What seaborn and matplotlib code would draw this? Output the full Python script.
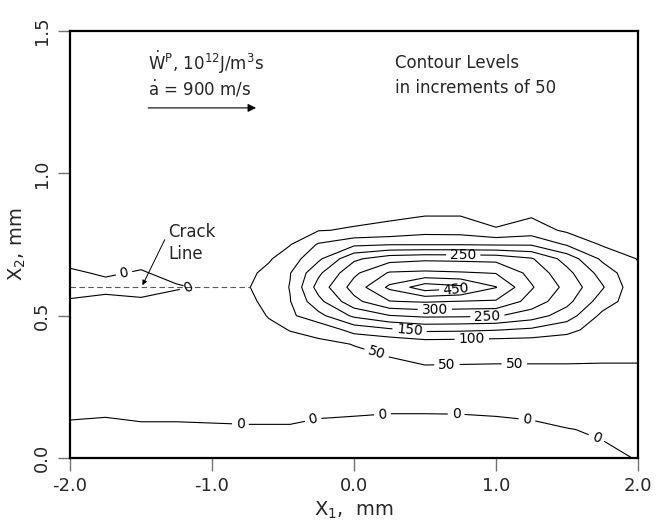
import numpy as np
import matplotlib
matplotlib.use("Agg")
import matplotlib.pyplot as plt
import seaborn as sns

# grid of the computed field, mm
x1_mm = [-2.0, -1.75, -1.5, -1.25, -1.0, -0.75, -0.6, -0.45, -0.25, 0.0,
         0.25, 0.5, 0.75, 1.0, 1.25, 1.5, 1.75, 2.0]
x2_mm = [0.0, 0.1, 0.2, 0.3, 0.4, 0.45, 0.5, 0.55, 0.6, 0.65, 0.7,
         0.75, 0.8, 0.9, 1.0, 1.5]

# plastic work rate (10^12 J/m^3 s), one list per x1 column, bottom -> top
wp_columns = [
    [-20, -7, 14, 20, 22, 20, 18, 5, -20, -5, 10, 15, 18, 20, 18, 10],
    [-18, -9, 12, 20, 22, 20, 18, 10, -10, 4, 12, 15, 18, 20, 18, 10],
    [-18, -6, 16, 22, 24, 22, 20, 6, -15, -3, 10, 16, 18, 20, 18, 10],
    [-18, -6, 16, 22, 24, 22, 20, 12, -3, 10, 15, 18, 18, 20, 18, 10],
    [-18, -5, 17, 24, 26, 25, 24, 20, 5, 18, 22, 22, 22, 22, 20, 10],
    [-18, -4, 18, 26, 30, 34, 36, 40, 47, 40, 30, 28, 28, 24, 20, 10],
    [-18, -4, 18, 27, 35, 42, 52, 62, 70, 62, 45, 36, 32, 26, 21, 10],
    [-18, -4, 18, 28, 40, 51, 90, 98, 102, 98, 75, 48, 38, 28, 22, 10],
    [-18, -10, 16, 32, 42, 62, 135, 185, 220, 190, 140, 105, 48, 28, 22, 12],
    [-18, -14, 16, 34, 51, 118, 210, 285, 320, 290, 240, 140, 54, 25, 20, 12],
    [-16, -15, 12, 38, 60, 140, 248, 348, 410, 355, 280, 148, 62, 25, 20, 12],
    [-15, -15, 12, 42, 72, 160, 260, 355, 480, 360, 290, 148, 80, 20, 18, 12],
    [-15, -14, 12, 42, 70, 158, 258, 348, 462, 355, 288, 148, 78, 22, 18, 12],
    [-15, -12, 14, 42, 68, 152, 255, 345, 402, 348, 285, 145, 53, 25, 18, 12],
    [-14, -8, 16, 42, 68, 140, 225, 280, 305, 285, 255, 145, 72, 22, 18, 12],
    [-10, -1, 18, 42, 68, 115, 175, 215, 235, 215, 180, 95, 42, 25, 18, 12],
    [-5, 3, 20, 42, 66, 75, 88, 125, 155, 130, 90, 45, 35, 25, 18, 12],
    [1, 10, 25, 42, 66, 70, 72, 68, 60, 58, 48, 38, 32, 25, 18, 12],
]

levels = [0, 50, 100, 150, 200, 250, 300, 350, 400, 450]
x_ticks = [-2.0, -1.0, 0.0, 1.0, 2.0]
y_ticks = [0.0, 0.5, 1.0, 1.5]
crack_x = [-2.0, -0.73]
crack_y = [0.6, 0.6]

# where the contour labels sit in the original figure
label_spots = [
    (-1.62, 0.65), (-1.17, 0.60), (-0.80, 0.12), (-0.29, 0.14),
    (0.20, 0.16), (0.72, 0.16), (1.22, 0.14), (1.70, 0.06),
    (0.16, 0.37), (0.655, 0.32), (1.13, 0.325),
    (0.83, 0.42), (0.39, 0.44), (0.77, 0.72), (0.94, 0.50),
    (0.57, 0.51), (0.72, 0.60),
]

sns.set_style("white")
plt.rcParams['font.family'] = ['DejaVu Sans']
plt.rcParams['axes.unicode_minus'] = False

wp = np.array(wp_columns).T

fig = plt.figure(figsize=(6.61, 5.31), dpi=100)
ax = fig.add_axes([0.106, 0.1375, 0.859, 0.804])

cs = ax.contour(x1_mm, x2_mm, wp, levels=levels, colors='black', linewidths=0.8)
ax.clabel(cs, manual=label_spots, fmt='%d', fontsize=10,
          inline=True, inline_spacing=4)

ax.plot(crack_x, crack_y, color='0.35', lw=0.8, ls=(0, (5, 3)))

ax.annotate('Crack\nLine', xy=(-1.49, 0.607), xytext=(-1.31, 0.755),
            ha='left', va='center', fontsize=12, linespacing=1.3,
            arrowprops=dict(arrowstyle='-|>', lw=0.7, color='black',
                            mutation_scale=7, shrinkA=0, shrinkB=0,
                            relpos=(0.0, 0.75)))

ax.text(-1.45, 1.39, r'$\dot{\mathrm{W}}^{\mathrm{P}}$, 10$^{12}$J/m$^3$s',
        fontsize=12, ha='left', va='center')
ax.text(-1.45, 1.295, r'$\dot{\mathrm{a}}$ = 900 m/s',
        fontsize=12, ha='left', va='center')
ax.annotate('', xy=(-0.69, 1.23), xytext=(-1.45, 1.23),
            arrowprops=dict(arrowstyle='-|>', lw=0.8, color='black',
                            mutation_scale=12, shrinkA=0, shrinkB=0))
ax.text(0.289, 1.388, 'Contour Levels', fontsize=12, ha='left', va='center')
ax.text(0.289, 1.30, 'in increments of 50', fontsize=12, ha='left', va='center')

ax.set_xlim(-2.0, 2.0)
ax.set_ylim(0.0, 1.5)
ax.set_xticks(x_ticks)
ax.set_xticklabels([f'{v:.1f}' for v in x_ticks])
ax.set_yticks(y_ticks)
ax.set_yticklabels([f'{v:.1f}' for v in y_ticks], rotation=90, va='center')
ax.tick_params(direction='out', length=9, width=1, color='0.45',
               labelsize=13, pad=5, left=True, bottom=True)
for sp in ax.spines.values():
    sp.set_linewidth(1.6)
    sp.set_color('black')

ax.set_xlabel(r'X$_1$,  mm', fontsize=14, labelpad=3)
ax.set_ylabel(r'X$_2$, mm', fontsize=14, labelpad=3)

fig.savefig('out.png', dpi=100)
